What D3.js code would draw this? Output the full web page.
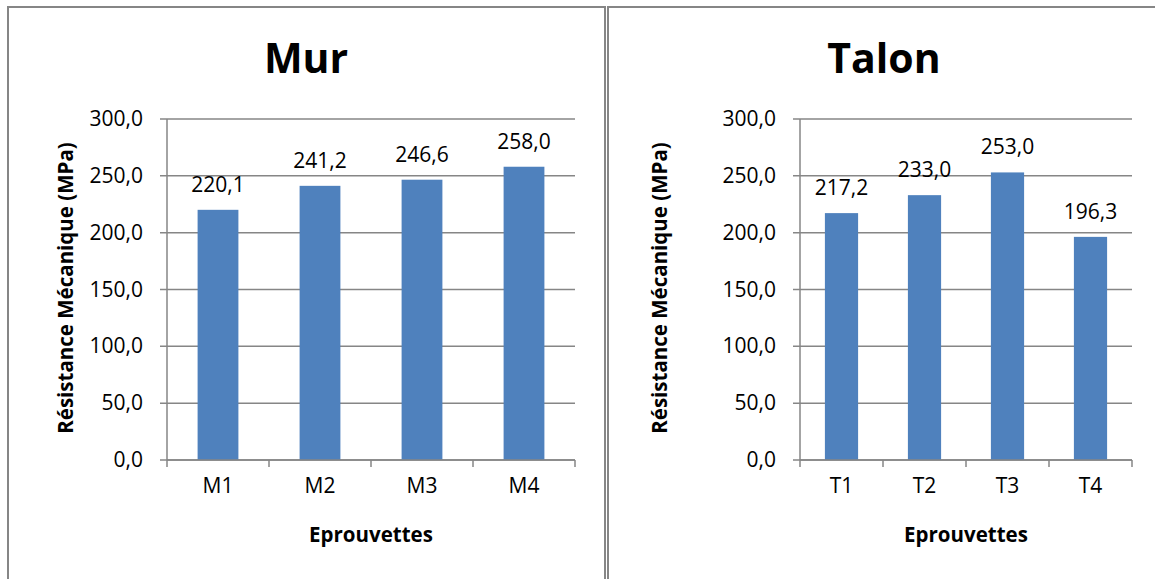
<!DOCTYPE html>
<html>
<head>
<meta charset="utf-8">
<script src="https://cdn.jsdelivr.net/npm/d3@7"></script>
<style>
  body { margin: 0; background: #fff; }
  svg { display: block; font-family: "Open Sans", sans-serif; }
</style>
</head>
<body>
<svg id="chart" width="1155" height="579"></svg>
<script>
const murCategories = ["M1", "M2", "M3", "M4"];
const murValues = [220.1, 241.2, 246.6, 258.0];
const talonCategories = ["T1", "T2", "T3", "T4"];
const talonValues = [217.2, 233.0, 253.0, 196.3];
const yTicks = [0, 50, 100, 150, 200, 250, 300];
const titles = ["Mur", "Talon"];
const yLabel = "Résistance Mécanique (MPa)";
const xLabel = "Eprouvettes";

const fmt = (v) => v.toFixed(1).replace(".", ",");
const svg = d3.select("#chart");

// panel frames
svg.append("rect").attr("x", 8).attr("y", 7).attr("width", 597).attr("height", 600)
  .attr("fill", "none").attr("stroke", "#868686").attr("stroke-width", 2);
svg.append("rect").attr("x", 608).attr("y", 7).attr("width", 600).attr("height", 600)
  .attr("fill", "none").attr("stroke", "#868686").attr("stroke-width", 2);

function drawPanel(opts) {
  const { cats, vals, title, x0, x1, titleX, yLabelX, xLabelX } = opts;
  const top = 119, bottom = 460;

  const x = d3.scaleBand().domain(cats).range([x0, x1]).paddingInner(0.6).paddingOuter(0.3);
  const xb = d3.scaleBand().domain(cats).range([x0, x1]);
  const y = d3.scaleLinear().domain([0, 300]).range([bottom, top]);

  const g = svg.append("g");

  // gridlines
  g.selectAll(".grid").data(yTicks).join("line")
    .attr("x1", x0 - 7).attr("x2", x1)
    .attr("y1", (d) => y(d)).attr("y2", (d) => y(d))
    .attr("stroke", "#868686").attr("stroke-width", 1.5);

  // y axis line
  g.append("line").attr("x1", x0).attr("x2", x0).attr("y1", top).attr("y2", bottom)
    .attr("stroke", "#868686").attr("stroke-width", 1.5);

  // bars
  g.selectAll(".bar").data(vals).join("rect")
    .attr("x", (d, i) => x(cats[i]))
    .attr("width", x.bandwidth())
    .attr("y", (d) => y(d))
    .attr("height", (d) => y(0) - y(d))
    .attr("fill", "#4f81bd");

  // x axis
  const xTickPos = cats.map((c) => xb(c)).concat([x1]);
  g.selectAll(".xtick").data(xTickPos).join("line")
    .attr("x1", (d) => d).attr("x2", (d) => d)
    .attr("y1", bottom).attr("y2", bottom + 7)
    .attr("stroke", "#868686").attr("stroke-width", 1.5);
  g.append("line").attr("x1", x0).attr("x2", x1).attr("y1", bottom).attr("y2", bottom)
    .attr("stroke", "#868686").attr("stroke-width", 1.5);

  // y tick labels
  g.selectAll(".ylab").data(yTicks).join("text")
    .attr("x", x0 - 24).attr("y", (d) => y(d) + 7)
    .attr("text-anchor", "end").attr("font-size", 21).attr("fill", "#000")
    .text(fmt);

  // x tick labels
  g.selectAll(".xlab").data(cats).join("text")
    .attr("x", (d) => xb(d) + xb.bandwidth() / 2).attr("y", 493)
    .attr("text-anchor", "middle").attr("font-size", 21).attr("fill", "#000")
    .text((d) => d);

  // data labels
  g.selectAll(".dlab").data(vals).join("text")
    .attr("x", (d, i) => x(cats[i]) + x.bandwidth() / 2).attr("y", (d) => y(d) - 18)
    .attr("text-anchor", "middle").attr("font-size", 21).attr("fill", "#000")
    .text(fmt);

  // title
  g.append("text").attr("x", titleX).attr("y", 73)
    .attr("text-anchor", "middle").attr("font-size", 41).attr("font-weight", "bold")
    .text(title);

  // axis titles
  g.append("text").attr("transform", `translate(${yLabelX},288) rotate(-90)`)
    .attr("text-anchor", "middle").attr("font-size", 20.5).attr("font-weight", "bold")
    .text(yLabel);
  g.append("text").attr("x", xLabelX).attr("y", 542)
    .attr("text-anchor", "middle").attr("font-size", 20.5).attr("font-weight", "bold")
    .text(xLabel);
}

drawPanel({ cats: murCategories, vals: murValues, title: titles[0],
  x0: 167, x1: 575, titleX: 306, yLabelX: 73, xLabelX: 371 });
drawPanel({ cats: talonCategories, vals: talonValues, title: titles[1],
  x0: 800, x1: 1132, titleX: 884, yLabelX: 667, xLabelX: 966 });
</script>
</body>
</html>
